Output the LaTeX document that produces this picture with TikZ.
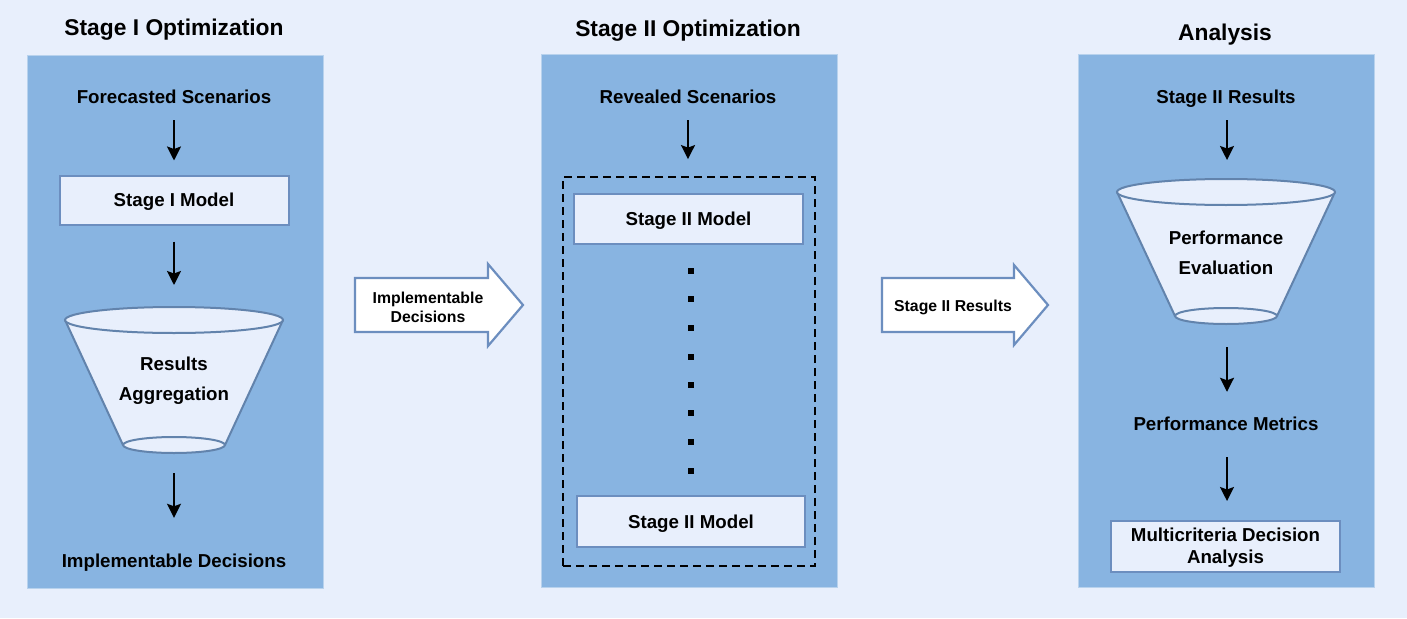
\documentclass[tikz,border=0pt]{standalone}
\usepackage{fontspec}
\setmainfont{Liberation Sans}
\usetikzlibrary{arrows.meta}
\definecolor{bgc}{HTML}{E8EFFC}
\definecolor{panelc}{HTML}{88B4E1}
\definecolor{boxf}{HTML}{E8EFFC}
\definecolor{boxd}{HTML}{6C8EBF}
\definecolor{fund}{HTML}{6283AC}
\newcommand\myBody{\bfseries\fontsize{18.7}{22}\selectfont}
\newcommand\myTwo{\bfseries\fontsize{18.7}{30}\selectfont}
\newcommand\myMc{\bfseries\fontsize{18.7}{22}\selectfont}
\newcommand\myTitle{\bfseries\fontsize{22.8}{26}\selectfont}
\newcommand\mySmall{\bfseries\fontsize{15.8}{19}\selectfont}
\begin{document}
\begin{tikzpicture}[x=1pt,y=-1pt,
  panel/.style={fill=panelc, draw=panelc!60!white, line width=1pt, inner sep=0},
  mbox/.style={draw=boxd, fill=boxf, line width=2pt, font=\myBody, inner sep=0, text height=16pt, text depth=2.4pt},
  ebox/.style={draw=boxd, fill=boxf, line width=2pt, inner sep=0},
  lbl/.style={font=\myBody, inner sep=0, text height=14pt, text depth=4pt, yshift=-1.5pt},
  twol/.style={font=\myTwo, inner sep=0, align=center},
  ttl/.style={font=\myTitle, inner sep=0},
  arr/.style={-{Stealth[length=14pt,width=14pt,inset=2.5pt]}, line width=2pt},
  funnel/.style={draw=fund, fill=boxf, line width=2pt},
  blk/.style={draw=boxd, fill=white, line width=2.2pt, line join=miter},
  sq/.style={fill=black, minimum size=6.5pt, inner sep=0},
  dbox/.style={draw=black, dash pattern=on 8pt off 5pt, line width=1.8pt, inner sep=0}
]
\useasboundingbox (0,0) rectangle (1407,618);
\fill[bgc] (0,0) rectangle (1407,618);

% panels
\node[panel, anchor=north west, minimum width=296pt, minimum height=533pt] (p1) at (27,55) {};
\node[panel, anchor=north west, minimum width=296pt, minimum height=533pt] (p2) at (541,54) {};
\node[panel, anchor=north west, minimum width=296pt, minimum height=533pt] (p3) at (1078,54) {};

% titles
\node[ttl] (t1) at (174,30) {Stage I Optimization};
\node[ttl] (t2) at (688,31) {Stage II Optimization};
\node[ttl] (t3) at (1225,35) {Analysis};

% ---- panel 1
\node[lbl] (fs) at (174,97) {Forecasted Scenarios};
\node[mbox, minimum width=229pt, minimum height=49pt] (m1) at (174,200) {Stage I Model};
\fill[boxf] (65,320) -- (283,320) -- (225,445) -- (123,445) -- cycle;
\draw[fund, line width=2pt] (65,320) -- (123,445) (283,320) -- (225,445);
\filldraw[funnel] (174,320) ellipse [x radius=109pt, y radius=13pt];
\filldraw[funnel] (174,445) ellipse [x radius=51pt, y radius=8pt];
\node[twol] (f1) at (174,381) {Results\\Aggregation};
\coordinate (f1top) at (174,307);
\coordinate (f1bot) at (174,453);
\node[lbl] (id) at (174,561) {Implementable Decisions};

\draw[arr, shorten <=12.5pt, shorten >=14pt] (fs.south) -- (m1.north);
\draw[arr, shorten <=16pt, shorten >=22pt] (m1.south) -- (f1top);
\draw[arr, shorten <=20pt, shorten >=35.5pt] (f1bot) -- (id.north);

% ---- block arrow 1
\draw[blk] (355,278) -- (488,278) -- (488,264) -- (523,305) -- (488,346) -- (488,332) -- (355,332) -- cycle;
\node[font=\mySmall, align=center, inner sep=0] (ba1) at (428,307) {Implementable\\Decisions};

% ---- panel 2
\node[lbl] (rs) at (688,97) {Revealed Scenarios};
\node[dbox, minimum width=252pt, minimum height=389pt] (db) at (689,371.5) {};
\node[mbox, minimum width=229pt, minimum height=50pt] (m2a) at (688.5,219) {Stage II Model};
\node[mbox, minimum width=228pt, minimum height=51pt] (m2b) at (691,521.5) {Stage II Model};
\foreach \yy [count=\i] in {271,299,328,357,385,413,442,471}
  \node[sq] (d\i) at (691,\yy) {};
\draw[arr, shorten <=12.5pt, shorten >=17pt] (rs.south) -- (db.north -| rs.south);

% ---- block arrow 2
\draw[blk] (882,278) -- (1014,278) -- (1014,265) -- (1048,305) -- (1014,345) -- (1014,332) -- (882,332) -- cycle;
\node[font=\mySmall, inner sep=0] (ba2) at (953,307.5) {Stage II Results};

% ---- panel 3
\node[lbl] (sr) at (1226,97) {Stage II Results};
\fill[boxf] (1117,192) -- (1335,192) -- (1277,316) -- (1175,316) -- cycle;
\draw[fund, line width=2pt] (1117,192) -- (1175,316) (1335,192) -- (1277,316);
\filldraw[funnel] (1226,192) ellipse [x radius=109pt, y radius=13pt];
\filldraw[funnel] (1226,316) ellipse [x radius=51pt, y radius=8pt];
\node[twol] (f2) at (1226,253) {Performance\\Evaluation};
\coordinate (f2top) at (1227,178);
\coordinate (f2bot) at (1227,325);
\node[lbl] (pm) at (1226,424) {Performance Metrics};
\node[ebox, minimum width=229pt, minimum height=51pt] (mc) at (1225.5,546.5) {};
\node[font=\myMc, align=center, inner sep=0] (mct) at (1225.5,548) {Multicriteria Decision\\Analysis};

\draw[arr, shorten <=12.5pt, shorten >=18pt] (sr.south -| f2top) -- (f2top);
\draw[arr, shorten <=22pt, shorten >=24.5pt] (f2bot) -- (pm.north -| f2bot);
\draw[arr, shorten <=22.5pt, shorten >=19pt] (pm.south -| f2bot) -- (mc.north -| f2bot);
\end{tikzpicture}
\end{document}
